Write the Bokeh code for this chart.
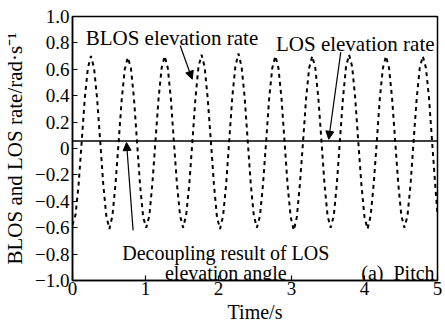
from bokeh.plotting import figure
from bokeh.models import Label, Arrow, NormalHead, FixedTicker, CustomJSTickFormatter, Range1d
from bokeh.embed import file_html
from bokeh.resources import INLINE

# BLOS elevation rate (dashed curve), rad/s
time_s = [
    0.000, 0.042, 0.084, 0.126, 0.168, 0.211, 0.253, 0.295, 0.337, 0.379, 0.421, 0.463,
    0.505, 0.547, 0.589, 0.632, 0.674, 0.716, 0.758, 0.800, 0.842, 0.884, 0.926, 0.968,
    1.010, 1.053, 1.095, 1.137, 1.179, 1.221, 1.263, 1.305, 1.347, 1.389, 1.431, 1.474,
    1.516, 1.558, 1.600, 1.642, 1.684, 1.726, 1.768, 1.810, 1.852, 1.895, 1.937, 1.979,
    2.021, 2.063, 2.105, 2.147, 2.189, 2.231, 2.273, 2.316, 2.358, 2.400, 2.442, 2.484,
    2.526, 2.568, 2.610, 2.652, 2.694, 2.737, 2.779, 2.821, 2.863, 2.905, 2.947, 2.989,
    3.031, 3.073, 3.115, 3.158, 3.200, 3.242, 3.284, 3.326, 3.368, 3.410, 3.452, 3.494,
    3.536, 3.579, 3.621, 3.663, 3.705, 3.747, 3.789, 3.831, 3.873, 3.915, 3.957, 4.000,
    4.042, 4.084, 4.126, 4.168, 4.210, 4.252, 4.294, 4.336, 4.378, 4.421, 4.463, 4.505,
    4.547, 4.589, 4.631, 4.673, 4.715, 4.757, 4.799, 4.842, 4.884, 4.926, 4.968, 5.000,
]
blos_rate = [
    -0.58, -0.50, -0.27, 0.05, 0.38, 0.61, 0.70, 0.61, 0.38, 0.06, -0.27, -0.51,
    -0.61, -0.51, -0.27, 0.05, 0.37, 0.60, 0.69, 0.61, 0.38, 0.05, -0.28, -0.52,
    -0.60, -0.51, -0.26, 0.06, 0.38, 0.61, 0.70, 0.61, 0.38, 0.05, -0.27, -0.51,
    -0.60, -0.50, -0.27, 0.05, 0.38, 0.62, 0.71, 0.62, 0.38, 0.06, -0.27, -0.52,
    -0.61, -0.51, -0.27, 0.06, 0.39, 0.62, 0.72, 0.62, 0.39, 0.06, -0.27, -0.51,
    -0.60, -0.51, -0.27, 0.05, 0.38, 0.61, 0.70, 0.61, 0.38, 0.05, -0.28, -0.52,
    -0.62, -0.52, -0.27, 0.05, 0.38, 0.61, 0.70, 0.61, 0.38, 0.06, -0.27, -0.51,
    -0.60, -0.51, -0.27, 0.06, 0.38, 0.62, 0.71, 0.62, 0.38, 0.05, -0.27, -0.52,
    -0.61, -0.51, -0.27, 0.05, 0.38, 0.61, 0.70, 0.61, 0.38, 0.05, -0.27, -0.51,
    -0.60, -0.51, -0.27, 0.06, 0.38, 0.61, 0.70, 0.61, 0.38, 0.05, -0.27, -0.50,
]
# Decoupling result of LOS elevation angle (solid line)
decoupling_t = [0.0, 5.0]
decoupling_rate = [0.057, 0.057]

x_ticks = [0, 1, 2, 3, 4, 5]
y_ticks = [-1.0, -0.8, -0.6, -0.4, -0.2, 0.0, 0.2, 0.4, 0.6, 0.8, 1.0]

FONT = "Liberation Serif"

p = figure(width=445, height=325, output_backend="svg", toolbar_location=None,
           x_range=Range1d(0, 5), y_range=Range1d(-1, 1),
           min_border_left=72, min_border_right=8, min_border_top=16, min_border_bottom=45)
p.background_fill_color = "white"
p.border_fill_color = "white"
p.grid.visible = False
p.outline_line_color = "black"
p.outline_line_width = 1.5
p.outline_line_alpha = 1.0

p.line(time_s, blos_rate, line_color="black", line_width=2, line_dash="4 4")
p.line(decoupling_t, decoupling_rate, line_color="black", line_width=1.5)

for ax in (p.xaxis[0], p.yaxis[0]):
    ax.axis_line_width = 1.5
    ax.axis_line_color = "black"
    ax.major_tick_in = 5
    ax.major_tick_out = 0
    ax.major_tick_line_width = 1.2
    ax.minor_tick_line_color = None
    ax.major_label_text_font = FONT
    ax.major_label_text_font_size = "19px"
    ax.major_label_text_color = "black"
    ax.axis_label_text_font = FONT
    ax.axis_label_text_font_style = "normal"
    ax.axis_label_text_color = "black"

p.xaxis[0].ticker = FixedTicker(ticks=x_ticks)
p.xaxis[0].major_label_standoff = 1
p.xaxis[0].axis_label = "Time/s"
p.xaxis[0].axis_label_standoff = 3
p.xaxis[0].axis_label_text_font_size = "20px"

p.yaxis[0].ticker = FixedTicker(ticks=y_ticks)
p.yaxis[0].formatter = CustomJSTickFormatter(
    code="if (Math.abs(tick) < 1e-9) { return '0'; } return (tick < 0 ? '\u2212' : '') + Math.abs(tick).toFixed(1);")
p.yaxis[0].major_label_standoff = 3
p.yaxis[0].axis_label = "BLOS and LOS rate/rad\u00b7s\u207b\u00b9"
p.yaxis[0].axis_label_standoff = 5
p.yaxis[0].axis_label_text_font_size = "21px"

def lab(x, y, text, align="left", size="20px"):
    p.add_layout(Label(x=x, y=y, text=text, text_font=FONT, text_font_size=size,
                       text_color="black", text_align=align, text_baseline="alphabetic"))

lab(0.18, 0.84, "BLOS elevation rate", size="21px")
lab(4.96, 0.79, "LOS elevation rate", "right", size="21px")
lab(2.10, -0.79, "Decoupling result of LOS", "center")
lab(2.10, -0.94, "elevation angle", "center")
lab(4.96, -0.94, "(a)\u00a0\u00a0Pitch", "right")

def arrow(x0, y0, x1, y1):
    p.add_layout(Arrow(end=NormalHead(size=8, fill_color="black", line_color="black", line_width=1),
                       x_start=x0, y_start=y0, x_end=x1, y_end=y1,
                       line_color="black", line_width=1.2))

arrow(1.475, 0.78, 1.64, 0.525)
arrow(3.675, 0.73, 3.51, 0.07)
arrow(0.83, -0.62, 0.74, 0.045)

open("out.html", "w").write(file_html(p, INLINE))
